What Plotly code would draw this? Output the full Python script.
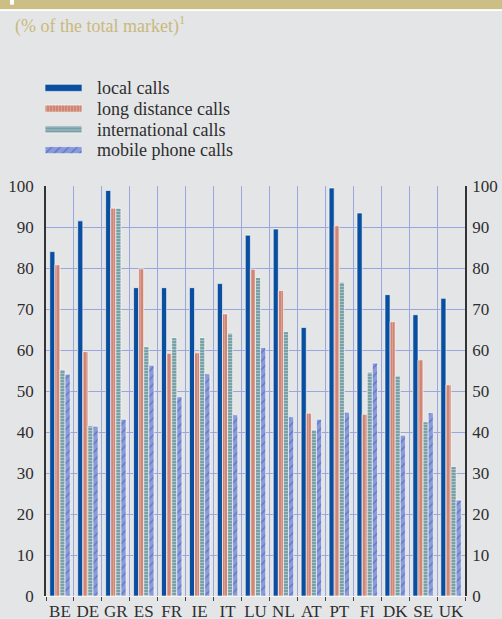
import plotly.graph_objects as go

W, H = 502, 619

countries = ["BE", "DE", "GR", "ES", "FR", "IE", "IT", "LU", "NL", "AT", "PT", "FI", "DK", "SE", "UK"]
local_calls = [84.0, 91.5, 98.9, 75.2, 75.2, 75.2, 76.2, 88.0, 89.5, 65.5, 99.5, 93.4, 73.5, 68.6, 72.6]
long_distance = [80.8, 59.6, 94.6, 79.8, 59.2, 59.3, 68.8, 79.7, 74.5, 44.6, 90.3, 44.3, 66.9, 57.6, 51.5]
international = [55.2, 41.5, 94.6, 60.8, 63.0, 63.0, 64.1, 77.7, 64.5, 40.5, 76.5, 54.6, 53.7, 42.5, 31.6]
mobile = [54.1, 41.4, 43.1, 56.3, 48.6, 54.2, 44.2, 60.6, 43.7, 43.1, 44.8, 56.8, 39.2, 44.7, 23.4]

series_names = ["local calls", "long distance calls", "international calls", "mobile phone calls"]
series_values = [local_calls, long_distance, international, mobile]
y_ticks = list(range(0, 101, 10))

styles = [
    dict(color="#0a4f9f", pattern=dict(shape="")),
    dict(color="#d38b7b", pattern=dict(shape="|", fgcolor="#ecb9aa", bgcolor="#cf8676", size=3, solidity=0.35)),
    dict(color="#7fa6ab", pattern=dict(shape="-", fgcolor="#d3e2e2", bgcolor="#78a0a6", size=3, solidity=0.35)),
    dict(color="#8797d6", pattern=dict(shape="/", fgcolor="#2f50b4", bgcolor="#8b9bd8", size=6, solidity=0.22)),
]

SERIF = "Liberation Serif"
TXT = "#2e2e2e"
GRID = "#9ba7dc"

xpos = list(range(len(countries)))
boundaries = [i - 0.5 for i in range(len(countries) + 1)]

fig = go.Figure()
for name, vals, st in zip(series_names, series_values, styles):
    fig.add_trace(go.Bar(
        x=xpos, y=vals, name=name, showlegend=False,
        marker=dict(color=st["color"], pattern=st["pattern"],
                    line=dict(color="rgba(255,255,255,0.85)", width=0.7)),
        xaxis="x", yaxis="y",
    ))

# invisible helper trace so the right-hand axis is drawn
fig.add_trace(go.Scatter(x=[xpos[0]], y=[0], mode="lines", line=dict(width=0),
                         showlegend=False, hoverinfo="skip", xaxis="x", yaxis="y2"))

# custom legend swatches
for i, (name, st) in enumerate(zip(series_names, styles)):
    fig.add_trace(go.Bar(
        x=[1], y=[i], orientation="h", width=0.34, offset=-0.17, showlegend=False,
        marker=dict(color=st["color"], pattern=st["pattern"],
                    line=dict(color="rgba(255,255,255,0.85)", width=0.7)),
        xaxis="x3", yaxis="y3", hoverinfo="skip",
    ))

x0, x1 = 46 / W, 465 / W
y0, y1 = (H - 596) / H, (H - 186) / H

fig.update_layout(
    width=W, height=H,
    margin=dict(l=0, r=0, t=0, b=0),
    paper_bgcolor="#e4e5e7", plot_bgcolor="#e4e5e7",
    barmode="group", bargap=0.27, bargroupgap=0.0,
    showlegend=False,
    font=dict(family=SERIF, size=17, color=TXT),
    xaxis=dict(domain=[x0, x1], type="linear", range=[boundaries[0], boundaries[-1]],
               tickmode="array", tickvals=xpos, ticktext=countries, tickangle=0,
               showgrid=False, zeroline=False, ticks="", ticklabelstandoff=0,
               minor=dict(tickmode="array", tickvals=boundaries, showgrid=True,
                          gridcolor=GRID, gridwidth=1.2,
                          ticks="outside", ticklen=4, tickcolor="#444", tickwidth=1),
               showline=True, linecolor="#f4f4f4", linewidth=1,
               tickfont=dict(family=SERIF, size=17, color=TXT),
               automargin=False, fixedrange=True),
    yaxis=dict(domain=[y0, y1], range=[0, 100], tickvals=y_ticks,
               showgrid=True, gridcolor=GRID, gridwidth=1.2, zeroline=False,
               showline=True, linecolor="#333", linewidth=1.5, ticks="",
               ticklabelstandoff=7,
               tickfont=dict(family=SERIF, size=17, color=TXT), automargin=False),
    yaxis2=dict(overlaying="y", side="right", anchor="x", range=[0, 100], tickvals=y_ticks,
                showgrid=False, zeroline=False, showline=True, linecolor="#333", linewidth=1.5,
                ticks="", ticklabelstandoff=2,
                tickfont=dict(family=SERIF, size=17, color=TXT), automargin=False),
    xaxis3=dict(domain=[45 / W, 82 / W], range=[0, 1], anchor="y3", visible=False, fixedrange=True),
    yaxis3=dict(domain=[(H - 160.5) / H, (H - 77.5) / H], range=[3.5, -0.5], anchor="x3",
                side="right", tickvals=[0, 1, 2, 3], ticktext=series_names,
                showgrid=False, zeroline=False, showline=False, ticks="",
                ticklabelstandoff=14,
                tickfont=dict(family=SERIF, size=18, color=TXT), automargin=False),
    shapes=[
        dict(type="rect", xref="paper", yref="paper", x0=0, x1=1, y0=(H - 9.3) / H, y1=1,
             fillcolor="#cbbf85", line=dict(width=0), layer="above"),
        dict(type="rect", xref="paper", yref="paper", x0=0, x1=1, y0=(H - 11) / H, y1=(H - 9.3) / H,
             fillcolor="#ffffff", line=dict(width=0), layer="above"),
        dict(type="rect", xref="paper", yref="paper", x0=10 / W, x1=14 / W, y0=(H - 4.7) / H, y1=1,
             fillcolor="#ffffff", line=dict(width=0), layer="above"),
    ],
    annotations=[
        dict(text="(% of the total market)<sup>1</sup>", xref="paper", yref="paper",
             x=13 / W, y=(H - 25.5) / H, xanchor="left", yanchor="middle", showarrow=False,
             font=dict(family=SERIF, size=18, color="#c9b97c")),
    ],
)

fig.write_html("out.html", config={"displayModeBar": False},
               post_script="document.body.style.margin='0px';")
